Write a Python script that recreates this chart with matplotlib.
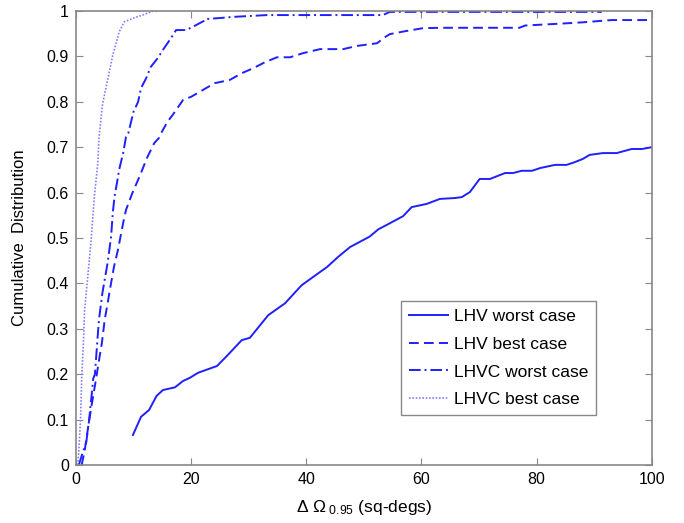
import matplotlib
matplotlib.use("Agg")
import matplotlib.pyplot as plt

plt.rcParams['font.family'] = ['Liberation Sans', 'DejaVu Sans']
plt.rcParams['mathtext.fontset'] = 'custom'
plt.rcParams['mathtext.rm'] = 'Liberation Sans'
plt.rcParams['mathtext.it'] = 'Liberation Sans'

# LHV worst case (solid)
lhv_worst_x = [9.9, 11.3, 12.7, 14.0, 15.1, 17.2, 18.6, 19.8, 21.2, 24.5, 26.2, 28.8, 30.2,
               33.4, 36.3, 39.2, 43.6, 45.5, 47.6, 51.0, 52.5, 54.0, 56.8, 58.3, 60.9, 63.2,
               65.8, 67.0, 68.4, 70.1, 71.9, 73.1, 74.5, 75.9, 77.4, 79.2, 80.6, 83.2, 85.2,
               86.6, 88.0, 89.2, 91.5, 93.9, 96.5, 98.3, 100.0]
lhv_worst_y = [0.066, 0.106, 0.121, 0.152, 0.165, 0.171, 0.185, 0.192, 0.203, 0.218, 0.240,
               0.275, 0.280, 0.330, 0.356, 0.396, 0.436, 0.458, 0.480, 0.503, 0.519, 0.529,
               0.548, 0.568, 0.575, 0.586, 0.588, 0.590, 0.601, 0.630, 0.630, 0.636, 0.643,
               0.643, 0.648, 0.648, 0.654, 0.661, 0.661, 0.667, 0.674, 0.683, 0.687, 0.687,
               0.696, 0.696, 0.700]

# LHV best case (dashed)
lhv_best_x = [1.0, 1.5, 2.2, 2.8, 3.5, 4.0, 4.5, 5.0, 5.6, 5.8, 6.6, 7.3, 8.2, 8.7, 9.8, 11.0,
              12.4, 13.6, 14.4, 14.8, 15.9, 16.8, 18.6, 20.0, 21.5, 24.1, 26.7, 28.8, 30.8,
              32.8, 34.9, 37.2, 39.4, 42.4, 46.4, 48.8, 52.3, 53.6, 54.5, 57.4, 60.2, 63.2,
              77.0, 78.0, 84.0, 88.0, 91.0, 93.0, 100.0]
lhv_best_y = [0.0, 0.03, 0.09, 0.137, 0.19, 0.23, 0.268, 0.32, 0.363, 0.379, 0.436, 0.474,
              0.533, 0.562, 0.599, 0.634, 0.678, 0.709, 0.720, 0.731, 0.756, 0.771, 0.804,
              0.811, 0.822, 0.841, 0.848, 0.863, 0.874, 0.887, 0.898, 0.898, 0.907, 0.916,
              0.916, 0.923, 0.929, 0.942, 0.949, 0.956, 0.962, 0.963, 0.963, 0.968, 0.972,
              0.975, 0.978, 0.980, 0.980]

# LHVC worst case (dash-dot)
lhvc_worst_x = [0.5, 1.0, 1.8, 2.3, 2.7, 3.0, 3.3, 3.7, 4.0, 4.6, 5.5, 6.1, 6.4, 6.7, 7.3, 7.5,
                8.2, 8.7, 9.1, 10.0, 10.8, 11.3, 12.2, 13.0, 14.2, 15.3, 16.5, 17.4, 19.1,
                20.3, 22.2, 22.4, 25.5, 27.3, 33.2, 53.3, 54.5, 91.3]
lhvc_worst_y = [0.0, 0.02, 0.05, 0.10, 0.15, 0.19, 0.20, 0.27, 0.32, 0.379, 0.445, 0.502,
                0.555, 0.591, 0.634, 0.650, 0.687, 0.723, 0.731, 0.778, 0.800, 0.830, 0.852,
                0.877, 0.896, 0.918, 0.940, 0.958, 0.958, 0.965, 0.978, 0.982, 0.985, 0.987,
                0.991, 0.991, 0.998, 0.998]

# LHVC best case (dotted)
lhvc_best_x = [0.3, 0.5, 0.8, 1.0, 1.3, 1.5, 2.0, 2.6, 2.9, 3.2, 3.8, 4.0, 4.6, 5.2, 5.8, 6.4,
               7.0, 7.5, 8.4, 10.1, 11.6, 13.4, 14.0]
lhvc_best_y = [0.0, 0.03, 0.10, 0.19, 0.27, 0.34, 0.407, 0.489, 0.540, 0.591, 0.665, 0.72,
               0.793, 0.830, 0.866, 0.903, 0.930, 0.954, 0.976, 0.985, 0.991, 1.0, 1.0]

x_ticks = [0, 20, 40, 60, 80, 100]
y_ticks = [0, 0.1, 0.2, 0.3, 0.4, 0.5, 0.6, 0.7, 0.8, 0.9, 1]
y_tick_labels = ["0", "0.1", "0.2", "0.3", "0.4", "0.5", "0.6", "0.7", "0.8", "0.9", "1"]

fig = plt.figure(figsize=(6.84, 5.23), dpi=100)
ax = fig.add_axes([0.111, 0.111, 0.842, 0.868])

blue = "#1f1fff"
ax.plot(lhv_worst_x, lhv_worst_y, color=blue, lw=1.4, ls="-", label="LHV worst case")
ax.plot(lhv_best_x, lhv_best_y, color=blue, lw=1.4, ls=(0, (5, 2.7)), label="LHV best case")
ax.plot(lhvc_worst_x, lhvc_worst_y, color=blue, lw=1.4, ls=(0, (6, 2, 1, 2)), label="LHVC worst case")
ax.plot(lhvc_best_x, lhvc_best_y, color="#8080ff", lw=1.2, ls=(0, (1, 1)), label="LHVC best case")

ax.set_xlim(0, 100)
ax.set_ylim(0, 1)
ax.set_xticks(x_ticks)
ax.set_yticks(y_ticks)
ax.set_yticklabels(y_tick_labels)
ax.tick_params(direction="in", length=5, color="#888888", labelsize=11.5,
               top=True, right=True, pad=5)
for s in ax.spines.values():
    s.set_color("#888888")
    s.set_linewidth(1.2)

ax.set_xlabel("Δ Ω$_{\\ 0.95}$ (sq-degs)", fontsize=12.5, labelpad=8)
ax.set_ylabel("Cumulative  Distribution", fontsize=12, labelpad=14)

leg = ax.legend(loc="lower left", bbox_to_anchor=(0.564, 0.110), fontsize=12.5,
                fancybox=False, framealpha=1, edgecolor="#888888", handlelength=2.3,
                borderpad=0.45, labelspacing=0.72, handletextpad=0.3, borderaxespad=0)
leg.get_frame().set_linewidth(1.0)

fig.savefig("out.png", dpi=100)
